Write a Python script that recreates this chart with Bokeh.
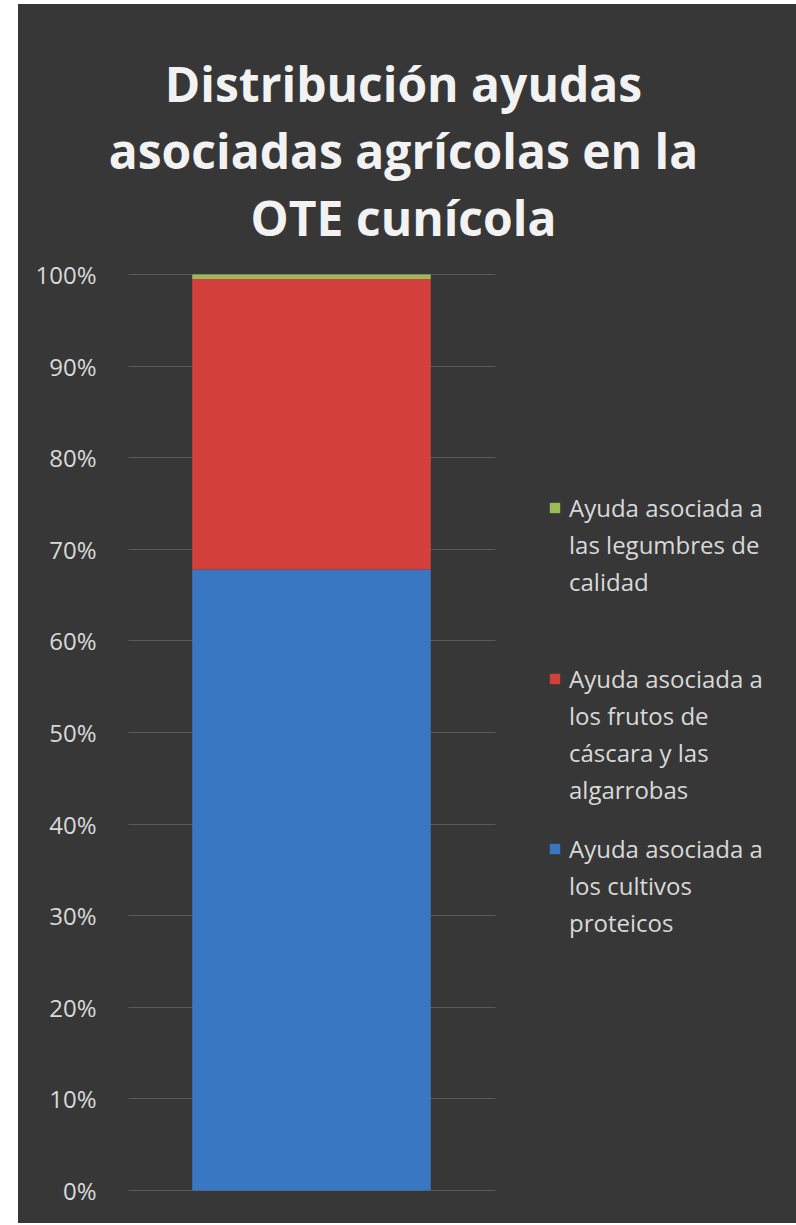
from bokeh.plotting import figure
from bokeh.models import (ColumnDataSource, Legend, LegendItem, Label, FixedTicker,
                          Range1d, Spacer)
from bokeh.layouts import row, column
from bokeh.embed import file_html
from bokeh.resources import INLINE

# ---- data ----
categories = ["OTE cunícola"]
proteicos = [0.678]
frutos = [0.317]
legumbres = [0.005]
series_keys = ["proteicos", "frutos", "legumbres"]
series_label_lines = [
    ["Ayuda asociada a", "los cultivos", "proteicos"],
    ["Ayuda asociada a", "los frutos de", "cáscara y las", "algarrobas"],
    ["Ayuda asociada a", "las legumbres de", "calidad"],
]
series_colors = ["#3a77c3", "#d3403b", "#9bbb59"]
tick_values = [0.0, 0.1, 0.2, 0.3, 0.4, 0.5, 0.6, 0.7, 0.8, 0.9, 1.0]
tick_labels = ["0%", "10%", "20%", "30%", "40%", "50%", "60%", "70%", "80%", "90%", "100%"]
title_lines = ["Distribución ayudas", "asociadas agrícolas en la", "OTE cunícola"]

# ---- layout constants (pixels) ----
FONT = "Open Sans"
BG = "#373737"
TXT = "#d9d9d9"
FIG_W, FIG_H = 778, 1219
BORDER_L = 86                  # frame starts right after the tick labels
FRAME_W = FIG_W - BORDER_L     # 692
PX_PER_X = 367.0               # one category slot in pixels
BAR_OFFSET = 207.0             # bar centre from frame left
PX_PER_Y = 916.0               # 0..100 %
ZERO_FROM_BOTTOM = 33.0
HUNDRED_FROM_TOP = 270.0

x_start = -BAR_OFFSET / PX_PER_X
x_end = x_start + FRAME_W / PX_PER_X
y_start = -ZERO_FROM_BOTTOM / PX_PER_Y
y_end = 1 + HUNDRED_FROM_TOP / PX_PER_Y

cat_x = list(range(len(categories)))
source = ColumnDataSource(dict(x=cat_x, cat=categories, proteicos=proteicos,
                               frutos=frutos, legumbres=legumbres))

p = figure(width=FIG_W, height=FIG_H, x_range=Range1d(x_start, x_end),
           y_range=Range1d(y_start, y_end), x_axis_location=None,
           output_backend="svg", toolbar_location=None,
           min_border_left=BORDER_L, min_border_right=0,
           min_border_top=0, min_border_bottom=0)
p.background_fill_color = None
p.border_fill_color = BG
p.outline_line_color = None
p.styles = {"background-color": BG}

renderers = p.vbar_stack(series_keys, x="x", width=0.65, source=source,
                         color=series_colors, line_color=None)
blank = p.vbar(x=[], top=[], width=0.65, fill_alpha=0, line_alpha=0)

# y axis
p.yaxis.ticker = FixedTicker(ticks=tick_values)
p.yaxis.major_label_overrides = {v: l for v, l in zip(tick_values, tick_labels)}
p.yaxis.axis_line_color = None
p.yaxis.major_tick_line_color = None
p.yaxis.minor_tick_line_color = None
p.yaxis.major_label_standoff = 2
p.yaxis.major_label_text_color = TXT
p.yaxis.major_label_text_font = FONT
p.yaxis.major_label_text_font_size = "24px"
p.xgrid.visible = False
p.ygrid.grid_line_color = "#5a5a5a"
p.ygrid.grid_line_width = 1
p.ygrid.cross_bounds = (-0.5, 0.5)

# legends: one block per series, line by line, glyph on the first line
LINE_H = 37
legend_tops = [829.5, 659.5, 489.0]   # page y of each block top (blue, red, green)
for i in range(len(series_keys)):
    lines = series_label_lines[i]
    its = [LegendItem(label=lines[0], renderers=[renderers[i]])]
    its += [LegendItem(label=t, renderers=[blank]) for t in lines[1:]]
    bottom = legend_tops[i] + LINE_H * len(lines)
    lg = Legend(items=its, location=(444, (FIG_H + 4) - bottom), orientation="vertical")
    lg.background_fill_alpha = 0
    lg.border_line_color = None
    lg.label_text_color = TXT
    lg.label_text_font = FONT
    lg.label_text_font_size = "24px"
    lg.label_height = LINE_H
    lg.glyph_width = 13
    lg.glyph_height = 13
    lg.label_standoff = 8
    lg.spacing = 0
    lg.padding = 0
    lg.margin = 0
    p.add_layout(lg, "center")

# title
title_baselines = [83, 150, 217]       # page y
title_centre = 403                     # page x
for txt, b in zip(title_lines, title_baselines):
    p.add_layout(Label(x=x_start + (title_centre - 104) / PX_PER_X,
                       y=(1190 - b) / PX_PER_Y, text=txt,
                       text_align="center", text_baseline="alphabetic",
                       text_color="#f2f2f2", text_font=FONT, text_font_style="bold",
                       text_font_size="48px"))

layout = row(Spacer(width=18), column(Spacer(height=4), p))
open("out.html", "w").write(file_html(layout, INLINE))
